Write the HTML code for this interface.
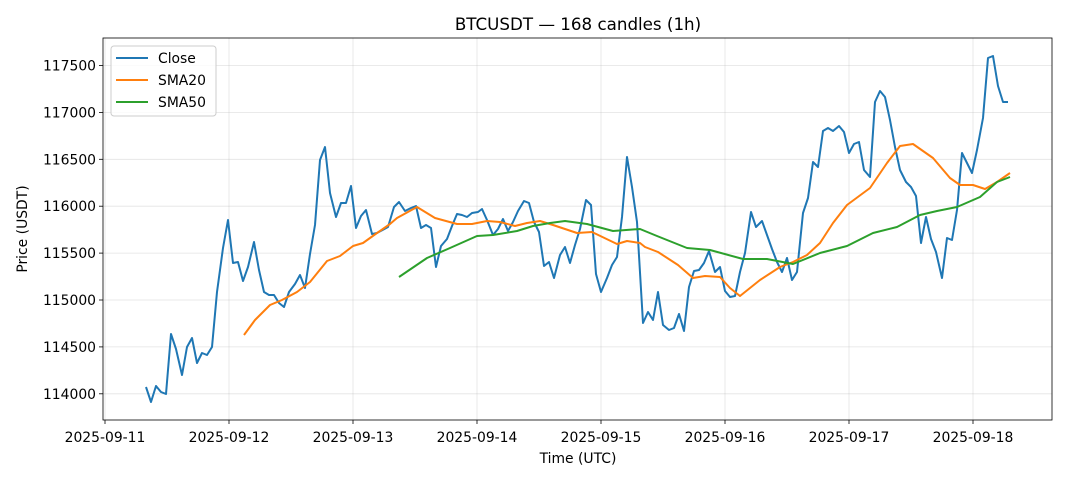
<!DOCTYPE html><html><head><meta charset="utf-8"><style>body{margin:0;background:#fff}svg{display:block;font-family:"DejaVu Sans","Liberation Sans",sans-serif}</style></head><body>
<svg width="1068" height="481" viewBox="0 0 1068 481">
<rect width="1068" height="481" fill="#fff"/>
<text x="578" y="30" font-size="16.7" text-anchor="middle">BTCUSDT — 168 candles (1h)</text>
<g stroke="#b0b0b0" stroke-opacity="0.35" stroke-width="0.8">
<line x1="103" x2="1052" y1="65.5" y2="65.5"/><line x1="103" x2="1052" y1="112.4" y2="112.4"/><line x1="103" x2="1052" y1="159.3" y2="159.3"/><line x1="103" x2="1052" y1="206.2" y2="206.2"/><line x1="103" x2="1052" y1="253.1" y2="253.1"/><line x1="103" x2="1052" y1="300" y2="300"/><line x1="103" x2="1052" y1="346.9" y2="346.9"/><line x1="103" x2="1052" y1="393.8" y2="393.8"/>
<line y1="38" y2="420" x1="105" x2="105"/><line y1="38" y2="420" x1="229" x2="229"/><line y1="38" y2="420" x1="353" x2="353"/><line y1="38" y2="420" x1="477" x2="477"/><line y1="38" y2="420" x1="601" x2="601"/><line y1="38" y2="420" x1="725" x2="725"/><line y1="38" y2="420" x1="849" x2="849"/><line y1="38" y2="420" x1="973" x2="973"/>
</g>
<g fill="none" stroke-width="2" stroke-linejoin="round">
<polyline stroke="#1f77b4" points="146,387 151,402 156,386 161,392 166,394 171,334 176,349 182,375 187,347 192,338 197,363 202,353 207,355 212,347 217,292 223,248 228,220 233,263 238,262 243,281 248,267 254,242 259,270 264,292 269,295 274,295 279,303 284,307 289,292 295,284 300,275 305,288 310,254 315,225 320,160 325,147 330,193 336,217 341,203 346,203 351,186 356,228 361,216 366,210 372,234 377,233 388,227 394,207 399,202 405,211 411,208 416,206 421,228 426,225 431,228 436,267 441,246 447,239 452,226 457,214 462,215 467,217 472,213 478,212 482,209 487,220 493,235 498,229 503,219 508,231 513,222 518,211 524,201 529,203 534,222 539,232 544,266 549,262 554,278 560,255 565,247 570,263 575,245 580,229 586,200 591,205 596,274 601,292 607,278 612,265 617,257 622,217 627,157 632,187 637,222 643,323 648,312 653,320 658,292 663,325 669,330 674,328 679,314 684,331 689,287 694,271 699,270 704,263 709,251 715,272 720,267 725,291 730,297 735,296 740,272 745,253 751,212 756,227 762,221 767,235 772,249 777,262 782,272 787,258 792,280 797,272 803,213 808,198 813,162 818,167 823,131 828,128 833,131 839,126 844,132 849,153 854,144 859,142 864,170 870,177 875,102 880,91 885,97 890,120 895,147 900,170 906,182 911,187 916,196 921,243 926,217 931,239 936,252 942,278 947,238 952,240 957,210 962,153 967,163 972,173 977,150 983,118 988,58 993,56 998,86 1003,102 1008,102"/>
<polyline stroke="#ff7f0e" points="244,335 255,320 270,305 282,300 297,292 310,282 327,261 340,256 353,246 363,243 377,233 390,224 397,218 417,207 435,218 457,224 472,224 487,221 500,222 515,226 527,223 540,221 553,225 577,233 592,232 617,244 627,241 640,243 645,247 658,252 678,265 693,278 705,276 720,277 730,288 740,296 760,280 780,267 793,262 807,255 820,243 833,223 847,205 870,188 887,163 900,146 913,144 933,158 950,178 960,185 973,185 985,189 997,182 1010,173"/>
<polyline stroke="#2ca02c" points="399,277 427,258 450,248 477,236 493,235 517,231 533,226 550,223 565,221 587,224 613,231 640,229 657,236 687,248 710,250 743,259 767,259 793,264 820,253 847,246 873,233 897,227 920,215 937,211 957,207 980,197 997,182 1010,177"/>
</g>
<rect x="103" y="38" width="949" height="382" fill="none" stroke="#000" stroke-width="0.8"/>
<g font-size="13.9" text-anchor="end">
<text x="96" y="70.5">117500</text><text x="96" y="117.4">117000</text><text x="96" y="164.3">116500</text><text x="96" y="211.2">116000</text><text x="96" y="258.1">115500</text><text x="96" y="305">115000</text><text x="96" y="351.9">114500</text><text x="96" y="398.8">114000</text>
</g>
<g stroke="#000" stroke-width="0.8"><line x1="99" x2="103" y1="65.5" y2="65.5"/><line x1="99" x2="103" y1="112.4" y2="112.4"/><line x1="99" x2="103" y1="159.3" y2="159.3"/><line x1="99" x2="103" y1="206.2" y2="206.2"/><line x1="99" x2="103" y1="253.1" y2="253.1"/><line x1="99" x2="103" y1="300" y2="300"/><line x1="99" x2="103" y1="346.9" y2="346.9"/><line x1="99" x2="103" y1="393.8" y2="393.8"/>
<line y1="420" y2="424" x1="105" x2="105"/><line y1="420" y2="424" x1="229" x2="229"/><line y1="420" y2="424" x1="353" x2="353"/><line y1="420" y2="424" x1="477" x2="477"/><line y1="420" y2="424" x1="601" x2="601"/><line y1="420" y2="424" x1="725" x2="725"/><line y1="420" y2="424" x1="849" x2="849"/><line y1="420" y2="424" x1="973" x2="973"/></g>
<g font-size="13.9" text-anchor="middle">
<text x="105" y="442">2025-09-11</text><text x="229" y="442">2025-09-12</text><text x="353" y="442">2025-09-13</text><text x="477" y="442">2025-09-14</text><text x="601" y="442">2025-09-15</text><text x="725" y="442">2025-09-16</text><text x="849" y="442">2025-09-17</text><text x="973" y="442">2025-09-18</text>
<text x="578" y="463">Time (UTC)</text>
<text transform="translate(27,229) rotate(-90)">Price (USDT)</text>
</g>
<rect x="111" y="46" width="105" height="70" rx="3" fill="#fff" fill-opacity="0.8" stroke="#ccc"/>
<g stroke-width="2"><line x1="116" x2="148" y1="58" y2="58" stroke="#1f77b4"/><line x1="116" x2="148" y1="80" y2="80" stroke="#ff7f0e"/><line x1="116" x2="148" y1="102" y2="102" stroke="#2ca02c"/></g>
<g font-size="13.9"><text x="158" y="63">Close</text><text x="158" y="85">SMA20</text><text x="158" y="107">SMA50</text></g>
</svg></body></html>
